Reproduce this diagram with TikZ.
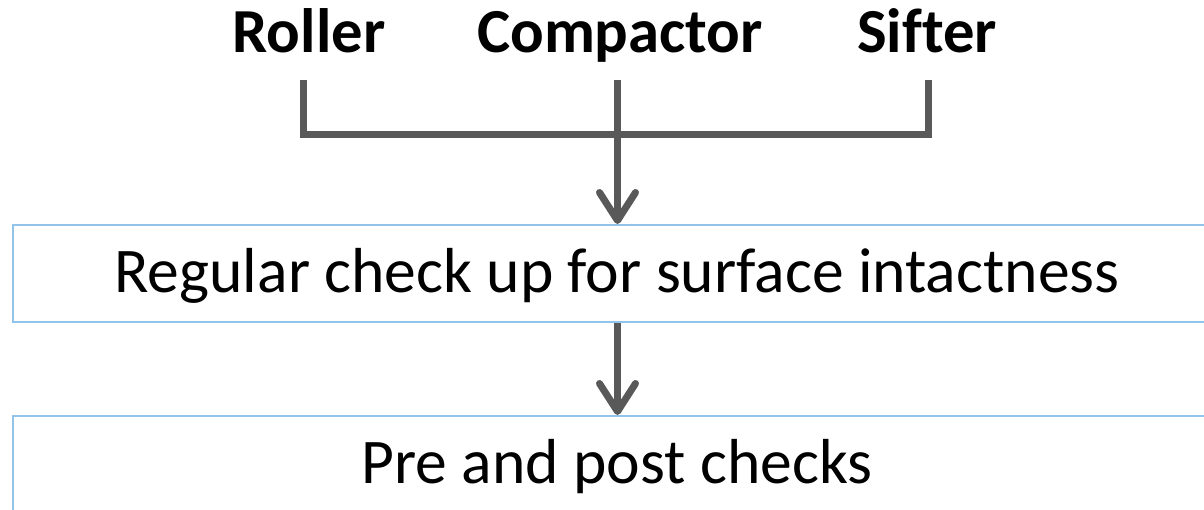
\documentclass[tikz,border=0pt]{standalone}
\usepackage{fontspec}
\setmainfont[Ligatures=NoCommon]{Carlito}
\usetikzlibrary{arrows.meta}
\definecolor{linkgray}{RGB}{89,89,89}
\definecolor{boxblue}{RGB}{145,196,232}
\tikzset{
  header/.style={font=\fontsize{47}{50}\selectfont\bfseries, inner sep=0pt, anchor=base},
  stagebox/.style={draw=boxblue, line width=1.5pt, minimum width=906pt, minimum height=72.75pt,
    inner sep=0pt, text height=28.8pt, text depth=0pt, font=\fontsize{47.7}{50}\selectfont},
  link/.style={draw=linkgray, line width=5.25pt},
  flowarrow/.style={link, -{Straight Barb[length=21pt, width=27pt, round]}}
}
\begin{document}
\begin{tikzpicture}[x=0.75pt, y=-0.75pt]
  \useasboundingbox (0,0) rectangle (1204,510);

  % equipment names
  \node[header] (roller) at (309,52.7) {Roller};
  \node[header] (compactor) at (620,52.7) {Compactor};
  \node[header] (sifter) at (927,52.7) {Sifter};

  % stages
  \node[stagebox] (regular) at (617,273.5) {Regular check up for surface intactness};
  \node[stagebox] (prepost) at (617,464.5) {Pre and post checks};

  % stem tops and the collecting bar
  \coordinate (rtop) at (303.5,80);
  \coordinate (ctop) at (617.5,80);
  \coordinate (stop) at (928.5,80);
  \coordinate (bar) at (0,134.5);

  \draw[link] (rtop) -- (rtop |- bar) -- (stop |- bar) -- (stop);
  \draw[flowarrow] (ctop) -- (ctop |- regular.north);
  \draw[flowarrow] (regular.south -| ctop) -- (prepost.north -| ctop);
\end{tikzpicture}
\end{document}
